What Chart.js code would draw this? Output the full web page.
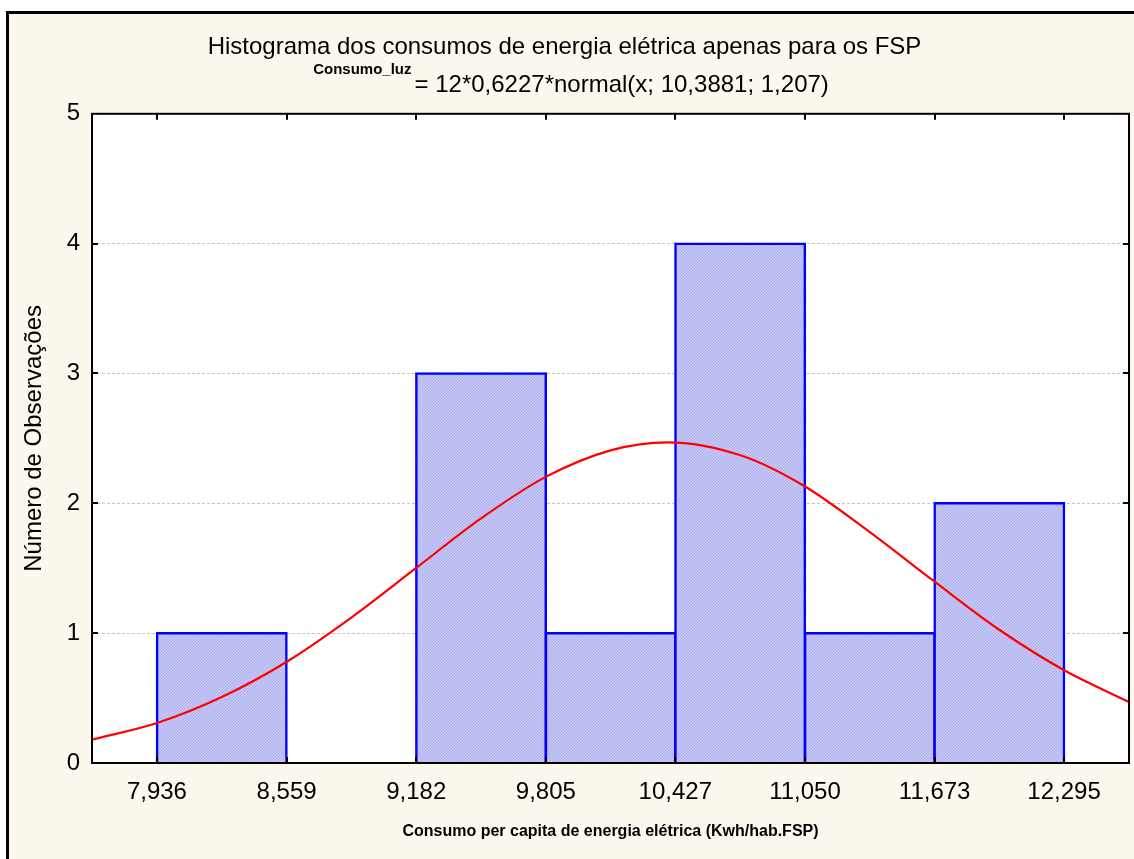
<!DOCTYPE html>
<html>
<head>
<meta charset="utf-8">
<script src="https://cdn.jsdelivr.net/npm/chart.js@4.4.1/dist/chart.umd.min.js"></script>
<style>
  html, body { margin: 0; padding: 0; background: #fff; }
  #wrap { width: 1134px; height: 859px; }
</style>
</head>
<body>
<div id="wrap"><canvas id="histChart" width="1134" height="859"></canvas></div>
<script>
// bins of the histogram (edges and counts)
const binEdges = [7.936, 8.559, 9.182, 9.805, 10.427, 11.050, 11.673, 12.295];
const tickLabels = ['7,936', '8,559', '9,182', '9,805', '10,427', '11,050', '11,673', '12,295'];
const counts = [1, 0, 3, 1, 4, 1, 2];

// fitted normal curve
const curveX = [7.624, 7.94, 8.25, 8.56, 8.87, 9.18, 9.49, 9.80, 10.12, 10.39, 10.74, 11.05, 11.36, 11.67, 11.98, 12.30, 12.607];
const curveY = [0.18, 0.31, 0.51, 0.78, 1.12, 1.50, 1.88, 2.20, 2.41, 2.47, 2.37, 2.13, 1.78, 1.40, 1.03, 0.71, 0.47];

const xMin = 7.624;
const xMax = 12.607;

const titleText = 'Histograma dos consumos de energia elétrica apenas para os FSP';
const formulaVar = 'Consumo_luz';
const formulaText = '= 12*0,6227*normal(x; 10,3881; 1,207)';

const FONT = "'Liberation Sans', Arial, sans-serif";

function hatchPattern() {
  const c = document.createElement('canvas');
  c.width = 3;
  c.height = 3;
  const p = c.getContext('2d');
  p.fillStyle = '#c4c6f8';
  p.fillRect(0, 0, 3, 3);
  p.fillStyle = '#aeb0ec';
  // fine diagonal hatch
  p.fillRect(2, 0, 1, 1);
  p.fillRect(1, 1, 1, 1);
  p.fillRect(0, 2, 1, 1);
  return p.createPattern(c, 'repeat');
}

const frameBg = {
  id: 'frameBg',
  beforeDraw(chart) {
    const ctx = chart.ctx;
    const a = chart.chartArea;
    ctx.save();
    ctx.fillStyle = '#fff';
    ctx.fillRect(0, 0, chart.width, chart.height);
    ctx.fillStyle = '#fdf8ee';
    ctx.fillRect(6, 11, chart.width, chart.height);
    ctx.fillStyle = '#000';
    ctx.fillRect(6, 11, chart.width, 3);
    ctx.fillRect(6, 11, 3, chart.height);
    ctx.fillStyle = '#fff';
    ctx.fillRect(a.left, a.top, a.right - a.left, a.bottom - a.top);
    ctx.restore();
  },
  afterDatasetsDraw(chart) {
    const ctx = chart.ctx;
    const a = chart.chartArea;
    const xs = chart.scales.x;
    const ys = chart.scales.y;
    ctx.save();
    ctx.strokeStyle = '#000';
    ctx.lineWidth = 2;
    ctx.strokeRect(a.left, a.top, a.right - a.left, a.bottom - a.top);
    ctx.beginPath();
    binEdges.forEach((v) => {
      const px = Math.round(xs.getPixelForValue(v));
      ctx.moveTo(px, a.top);
      ctx.lineTo(px, a.top + 6);
      ctx.moveTo(px, a.bottom);
      ctx.lineTo(px, a.bottom - 6);
    });
    for (let v = 1; v < 5; v++) {
      const py = Math.round(ys.getPixelForValue(v));
      ctx.moveTo(a.left, py);
      ctx.lineTo(a.left + 6, py);
      ctx.moveTo(a.right, py);
      ctx.lineTo(a.right - 6, py);
    }
    ctx.stroke();
    ctx.restore();
  },
  afterDraw(chart) {
    // subtitle with the small bold variable name
    const ctx = chart.ctx;
    ctx.save();
    ctx.fillStyle = '#000';
    ctx.textBaseline = 'alphabetic';
    ctx.font = 'bold 15px ' + FONT;
    const w1 = ctx.measureText(formulaVar).width;
    ctx.font = '24px ' + FONT;
    const w2 = ctx.measureText(formulaText).width;
    const x0 = 571 - (w1 + 3 + w2) / 2;
    ctx.font = 'bold 15px ' + FONT;
    ctx.fillText(formulaVar, x0, 73.5);
    ctx.font = '24px ' + FONT;
    ctx.fillText(formulaText, x0 + w1 + 3, 91.5);
    ctx.restore();
  },
};

Chart.defaults.font.family = FONT;
Chart.defaults.color = '#000';

const ctx = document.getElementById('histChart').getContext('2d');
const barData = counts.map((c, i) => ({ x: (binEdges[i] + binEdges[i + 1]) / 2, y: c }));
const lineData = curveX.map((x, i) => ({ x: x, y: curveY[i] }));

new Chart(ctx, {
  type: 'bar',
  data: {
    datasets: [
      {
        type: 'line',
        data: lineData,
        borderColor: '#ff0000',
        borderWidth: 2.2,
        pointRadius: 0,
        fill: false,
        cubicInterpolationMode: 'monotone',
        order: 0,
      },
      {
        type: 'bar',
        data: barData,
        backgroundColor: hatchPattern(),
        borderColor: '#0000ff',
        borderWidth: 2.5,
        inflateAmount: (c) => (c.raw && c.raw.y ? 1.25 : 0),
        barPercentage: 1,
        categoryPercentage: 1,
        order: 1,
      },
    ],
  },
  options: {
    responsive: false,
    animation: false,
    layout: { padding: { left: 0, right: 5, top: 0, bottom: 0 } },
    plugins: {
      legend: { display: false },
      tooltip: { enabled: false },
      title: {
        display: true,
        text: titleText,
        font: { size: 24, weight: 'normal' },
        color: '#000',
        padding: { top: 33, bottom: 52 },
      },
    },
    scales: {
      x: {
        type: 'linear',
        min: xMin,
        max: xMax,
        offset: false,
        afterBuildTicks: (scale) => {
          scale.ticks = binEdges.map((v) => ({ value: v }));
        },
        afterFit: (scale) => {
          scale.height = 96;
        },
        grid: { display: false, drawTicks: false },
        border: { display: false },
        ticks: {
          autoSkip: false,
          maxRotation: 0,
          padding: 15,
          font: { size: 24 },
          callback: (value, index) => tickLabels[index],
        },
        title: {
          display: true,
          text: 'Consumo per capita de energia elétrica (Kwh/hab.FSP)',
          font: { size: 16, weight: 'bold' },
          padding: { top: 0, bottom: 18 },
        },
      },
      y: {
        min: 0,
        max: 5,
        afterFit: (scale) => {
          scale.width = 92;
        },
        grid: {
          drawTicks: false,
          color: '#c4c4c4',
          lineWidth: 1,
        },
        border: { display: false, dash: [3, 2] },
        ticks: {
          stepSize: 1,
          padding: 12,
          font: { size: 24 },
        },
        title: {
          display: true,
          text: 'Número de Observações',
          font: { size: 24 },
          padding: { top: 20, bottom: 0 },
        },
      },
    },
  },
  plugins: [frameBg],
});
</script>
</body>
</html>
